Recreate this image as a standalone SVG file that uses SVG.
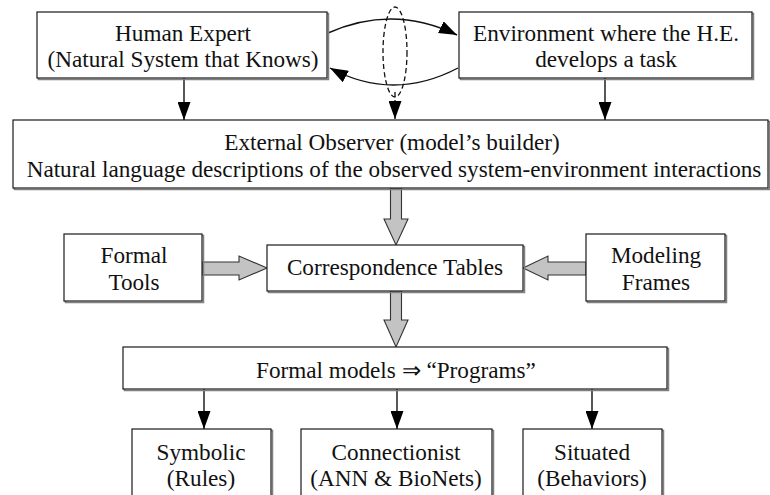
<svg xmlns="http://www.w3.org/2000/svg" width="770" height="495" viewBox="0 0 770 495">
  <style>
    .box { fill: #ffffff; stroke: #1a1a1a; stroke-width: 1.2; }
    .shadow { fill: none; stroke: #808080; stroke-width: 1.5; }
    .lbl { font-family: "Liberation Serif", "Times New Roman", serif; font-size: 23.2px; fill: #111; text-anchor: middle; }
    .wire { fill: none; stroke: #111; stroke-width: 1.4; }
    .dash { fill: none; stroke: #111; stroke-width: 1.3; stroke-dasharray: 5 3; }
    .fat { fill: #c3c3c3; stroke: #333; stroke-width: 1.1; stroke-linejoin: miter; }
  </style>
  <defs>
    <marker id="head" markerUnits="userSpaceOnUse" markerWidth="18" markerHeight="13" refX="18" refY="6.5" orient="auto" viewBox="0 0 18 13">
      <path d="M0,0 L18,6.5 L0,13 Z" fill="#000"/>
    </marker>
  </defs>

  <!-- connectors -->
  <g id="connectors">
    <!-- expert <-> environment loop -->
    <path class="wire" d="M328,33 Q393,4 457,35" marker-end="url(#head)"/>
    <path class="wire" d="M458,68 Q393,102 330,68" marker-end="url(#head)"/>
    <ellipse class="dash" cx="395" cy="52" rx="12" ry="45"/>
    <path class="dash" d="M395,92 L395,119" marker-end="url(#head)"/>
    <!-- down to observer -->
    <path class="wire" d="M184,78 L184,120" marker-end="url(#head)"/>
    <path class="wire" d="M605,78 L605,120" marker-end="url(#head)"/>
    <!-- block arrows -->
    <polygon class="fat" points="390.5,188 401.5,188 401.5,219 408,219 396,245 384,219 390.5,219"/>
    <polygon class="fat" points="390.5,291 401.5,291 401.5,320 408,320 396,347 384,320 390.5,320"/>
    <polygon class="fat" points="202,262 239,262 239,256 267,268 239,280 239,275 202,275"/>
    <polygon class="fat" points="586,262 548,262 548,256 523,268 548,280 548,275 586,275"/>
    <!-- down to model families -->
    <path class="wire" d="M204,389 L204,429" marker-end="url(#head)"/>
    <path class="wire" d="M397,389 L397,429" marker-end="url(#head)"/>
    <path class="wire" d="M592,389 L592,429" marker-end="url(#head)"/>
  </g>

  <g id="human-expert">
    <rect class="shadow" x="38.5" y="13.5" width="290" height="66"/>
    <rect class="box" x="37" y="12" width="290" height="66"/>
    <text class="lbl" x="183" y="41">Human Expert</text>
    <text class="lbl" x="183" y="67">(Natural System that Knows)</text>
  </g>

  <g id="environment">
    <rect class="shadow" x="460.5" y="13.5" width="293" height="66"/>
    <rect class="box" x="459" y="12" width="293" height="66"/>
    <text class="lbl" x="606" y="41">Environment where the H.E.</text>
    <text class="lbl" x="606" y="67">develops a task</text>
  </g>

  <g id="observer">
    <rect class="shadow" x="14.5" y="121.5" width="755" height="68"/>
    <rect class="box" x="13" y="120" width="755" height="68"/>
    <text class="lbl" x="392" y="150">External Observer (model’s builder)</text>
    <text class="lbl" x="394" y="177">Natural language descriptions of the observed system-environment interactions</text>
  </g>

  <g id="formal-tools">
    <rect class="shadow" x="65.5" y="235.5" width="138" height="67"/>
    <rect class="box" x="64" y="234" width="138" height="67"/>
    <text class="lbl" x="134" y="263">Formal</text>
    <text class="lbl" x="134" y="290">Tools</text>
  </g>

  <g id="correspondence">
    <rect class="shadow" x="268.5" y="246.5" width="256" height="46"/>
    <rect class="box" x="267" y="245" width="256" height="46"/>
    <text class="lbl" x="395" y="275">Correspondence Tables</text>
  </g>

  <g id="modeling-frames">
    <rect class="shadow" x="587.5" y="235.5" width="139" height="67"/>
    <rect class="box" x="586" y="234" width="139" height="67"/>
    <text class="lbl" x="656" y="263">Modeling</text>
    <text class="lbl" x="656" y="290">Frames</text>
  </g>

  <g id="formal-models">
    <rect class="shadow" x="124.5" y="348.5" width="544" height="42"/>
    <rect class="box" x="123" y="347" width="544" height="42"/>
    <text class="lbl" x="396" y="378">Formal models ⇒ “Programs”</text>
  </g>

  <g id="symbolic">
    <rect class="shadow" x="133.5" y="430.5" width="139" height="80"/>
    <rect class="box" x="132" y="429" width="139" height="80"/>
    <text class="lbl" x="201" y="460">Symbolic</text>
    <text class="lbl" x="201" y="486">(Rules)</text>
  </g>

  <g id="connectionist">
    <rect class="shadow" x="302.5" y="430.5" width="191" height="80"/>
    <rect class="box" x="301" y="429" width="191" height="80"/>
    <text class="lbl" x="396" y="460">Connectionist</text>
    <text class="lbl" x="396" y="486">(ANN &amp; BioNets)</text>
  </g>

  <g id="situated">
    <rect class="shadow" x="524.5" y="430.5" width="139" height="80"/>
    <rect class="box" x="523" y="429" width="139" height="80"/>
    <text class="lbl" x="592" y="460">Situated</text>
    <text class="lbl" x="592" y="486">(Behaviors)</text>
  </g>
</svg>
